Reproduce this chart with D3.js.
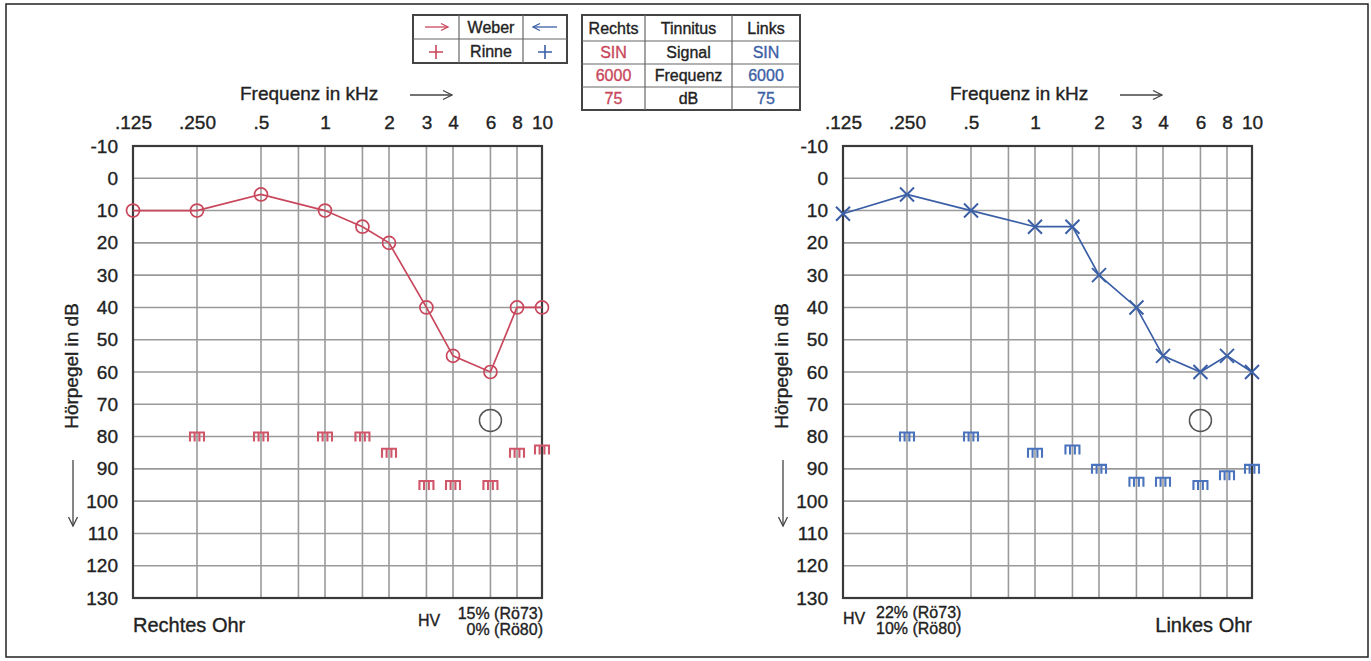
<!DOCTYPE html>
<html>
<head>
<meta charset="utf-8">
<script src="https://cdn.jsdelivr.net/npm/d3@7"></script>
<style>
  body { margin: 0; background: #fff; }
  svg { display: block; font-family: "Liberation Sans", Arial, sans-serif; }
  text { stroke-width: 0.35px; }
</style>
</head>
<body>
<div id="my_dataviz"></div>
<script>
// axis ticks
var freqTicks = [0.125, 0.25, 0.5, 1, 2, 3, 4, 6, 8, 10];
var freqTickLabels = [".125", ".250", ".5", "1", "2", "3", "4", "6", "8", "10"];
var gridFreqs = [0.25, 0.5, 0.75, 1, 1.5, 2, 3, 4, 6, 8];
var dbTicks = [-10, 0, 10, 20, 30, 40, 50, 60, 70, 80, 90, 100, 110, 120, 130];

// right ear (red)
var rightAirFreq = [0.125, 0.25, 0.5, 1, 1.5, 2, 3, 4, 6, 8, 10];
var rightAirDb = [10, 10, 5, 10, 15, 20, 40, 55, 60, 40, 40];
var rightBoneFreq = [0.25, 0.5, 1, 1.5, 2, 3, 4, 6, 8, 10];
var rightBoneDb = [80, 80, 80, 80, 85, 95, 95, 95, 85, 84];

// left ear (blue)
var leftAirFreq = [0.125, 0.25, 0.5, 1, 1.5, 2, 3, 4, 6, 8, 10];
var leftAirDb = [11, 5, 10, 15, 15, 30, 40, 55, 60, 55, 60];
var leftBoneFreq = [0.25, 0.5, 1, 1.5, 2, 3, 4, 6, 8, 10];
var leftBoneDb = [80, 80, 85, 84, 90, 94, 94, 95, 92, 90];

// tinnitus
var tinnitusFreq = 6;
var tinnitusDb = 75;
var tinnitusLabels = ["Signal", "Frequenz", "dB"];
var tinnitusRechts = ["SIN", "6000", "75"];
var tinnitusLinks = ["SIN", "6000", "75"];

// HV text
var hvRechts = ["15% (Rö73)", "0% (Rö80)"];
var hvLinks = ["22% (Rö73)", "10% (Rö80)"];

var red = "#c9475c", blue = "#3b5fa6";
var redMark = "#d0566a", blueMark = "#4a73bd";

var width = 1371, height = 661;
var plotW = 409, plotH = 452;

var svg = d3.select("#my_dataviz")
    .append("svg")
    .attr("width", width)
    .attr("height", height);

// outer frame
svg.append("rect")
    .attr("x", 6).attr("y", 4)
    .attr("width", 1362).attr("height", 653)
    .attr("fill", "none")
    .attr("stroke", "#222")
    .attr("stroke-width", 1.5);

// log scale, 8->10 squeezed a bit like the printed form
var x = d3.scaleLog()
    .domain([0.125, 8, 10])
    .range([0, 384, plotW]);

var y = d3.scaleLinear()
    .domain([-10, 130])
    .range([0, plotH]);

function arrow(g, x1, y1, x2, y2, color, head) {
    var dir = x2 > x1 ? 1 : (x2 < x1 ? -1 : 0);
    g.append("line")
        .attr("x1", x1).attr("y1", y1).attr("x2", x2).attr("y2", y2)
        .attr("stroke", color).attr("stroke-width", 1.3);
    if (dir !== 0) {
        g.append("path")
            .attr("d", "M" + (x2 - dir * head) + "," + (y2 - head * 0.5) + "L" + x2 + "," + y2 + "L" + (x2 - dir * head) + "," + (y2 + head * 0.5))
            .attr("fill", "none").attr("stroke", color).attr("stroke-width", 1.3);
    } else {
        g.append("path")
            .attr("d", "M" + (x2 - head * 0.5) + "," + (y2 - head) + "L" + x2 + "," + y2 + "L" + (x2 + head * 0.5) + "," + (y2 - head))
            .attr("fill", "none").attr("stroke", color).attr("stroke-width", 1.3);
    }
}

function txt(sel, color) {
    return sel.attr("fill", color).attr("stroke", color);
}

function drawPanel(left, airFreq, airDb, boneFreq, boneDb, color, markColor, symbol) {
    var g = svg.append("g")
        .attr("transform", "translate(" + left + ",146)");

    // grid
    g.selectAll(".hgrid")
        .data(dbTicks)
        .enter().append("line")
        .attr("x1", 0).attr("x2", plotW)
        .attr("y1", function (d) { return y(d); })
        .attr("y2", function (d) { return y(d); })
        .attr("stroke", "#9a9a9a").attr("stroke-width", 1.6);
    g.selectAll(".vgrid")
        .data(gridFreqs)
        .enter().append("line")
        .attr("y1", 0).attr("y2", plotH)
        .attr("x1", function (d) { return x(d); })
        .attr("x2", function (d) { return x(d); })
        .attr("stroke", "#9a9a9a").attr("stroke-width", 1.6);
    g.append("rect")
        .attr("width", plotW).attr("height", plotH)
        .attr("fill", "none").attr("stroke", "#3a3a3a").attr("stroke-width", 2.2);

    // axes
    var xAxis = g.append("g")
        .call(d3.axisTop(x)
            .tickValues(freqTicks)
            .tickSize(0)
            .tickPadding(17)
            .tickFormat(function (d, i) { return freqTickLabels[i]; }));
    xAxis.select(".domain").remove();
    txt(xAxis.selectAll("text"), "#222")
        .attr("font-size", "19px")
        .attr("font-family", "'Liberation Sans', Arial, sans-serif");

    var yAxis = g.append("g")
        .call(d3.axisLeft(y)
            .tickValues(dbTicks)
            .tickSize(0)
            .tickPadding(15)
            .tickFormat(function (d) { return String(d); }));
    yAxis.select(".domain").remove();
    txt(yAxis.selectAll("text"), "#222")
        .attr("font-size", "19px")
        .attr("font-family", "'Liberation Sans', Arial, sans-serif");

    // axis titles
    txt(g.append("text"), "#222")
        .attr("x", x(0.125) + 107).attr("y", -46)
        .attr("font-size", "19px")
        .text("Frequenz in kHz");
    arrow(g, x(0.125) + 277, -51, x(0.125) + 319, -51, "#444", 9);

    txt(g.append("text"), "#222")
        .attr("transform", "translate(" + -55 + "," + 220 + ") rotate(-90)")
        .attr("text-anchor", "middle")
        .attr("font-size", "19px")
        .text("Hörpegel in dB");
    arrow(g, -60, 314, -60, 380, "#444", 9);

    // tinnitus marker
    g.append("circle")
        .attr("cx", x(tinnitusFreq)).attr("cy", y(tinnitusDb))
        .attr("r", 11)
        .attr("fill", "none").attr("stroke", "#555").attr("stroke-width", 1.5);

    // bone conduction (masked) marks
    var bone = boneFreq.map(function (f, i) { return [f, boneDb[i]]; });
    g.selectAll(".bone")
        .data(bone)
        .enter().append("path")
        .attr("transform", function (d) { return "translate(" + x(d[0]) + "," + y(d[1]) + ")"; })
        .attr("d", "M-8,-4H8M-7,-4V5M-2.4,-4V5M2.4,-4V5M7,-4V5")
        .attr("fill", "none").attr("stroke", markColor).attr("stroke-width", 2.1);

    // air conduction line
    var air = airFreq.map(function (f, i) { return [f, airDb[i]]; });
    g.append("path")
        .datum(air)
        .attr("d", d3.line()
            .x(function (d) { return x(d[0]); })
            .y(function (d) { return y(d[1]); }))
        .attr("fill", "none").attr("stroke", color).attr("stroke-width", 1.7);

    if (symbol === "o") {
        g.selectAll(".air")
            .data(air)
            .enter().append("circle")
            .attr("cx", function (d) { return x(d[0]); })
            .attr("cy", function (d) { return y(d[1]); })
            .attr("r", 6.5)
            .attr("fill", "none").attr("stroke", color).attr("stroke-width", 1.7);
    } else {
        g.selectAll(".air")
            .data(air)
            .enter().append("path")
            .attr("transform", function (d) { return "translate(" + x(d[0]) + "," + y(d[1]) + ")"; })
            .attr("d", "M-7,-7L7,7M-7,7L7,-7")
            .attr("fill", "none").attr("stroke", color).attr("stroke-width", 2);
    }
    return g;
}

var gR = drawPanel(133, rightAirFreq, rightAirDb, rightBoneFreq, rightBoneDb, red, redMark, "o");
var gL = drawPanel(843, leftAirFreq, leftAirDb, leftBoneFreq, leftBoneDb, blue, blueMark, "x");

// bottom labels
txt(gR.append("text"), "#222")
    .attr("x", 0).attr("y", plotH + 34)
    .attr("font-size", "20px")
    .text("Rechtes Ohr");
txt(gR.append("text"), "#222")
    .attr("x", 285).attr("y", plotH + 28)
    .attr("font-size", "16px")
    .text("HV");
txt(gR.selectAll(".hv")
    .data(hvRechts)
    .enter().append("text"), "#222")
    .attr("x", plotW + 1).attr("y", function (d, i) { return plotH + 21 + i * 16; })
    .attr("text-anchor", "end")
    .attr("font-size", "16px")
    .text(function (d) { return d; });

txt(gL.append("text"), "#222")
    .attr("x", plotW).attr("y", plotH + 34)
    .attr("text-anchor", "end")
    .attr("font-size", "20px")
    .text("Linkes Ohr");
txt(gL.append("text"), "#222")
    .attr("x", 0).attr("y", plotH + 26)
    .attr("font-size", "16px")
    .text("HV");
txt(gL.selectAll(".hv")
    .data(hvLinks)
    .enter().append("text"), "#222")
    .attr("x", 33).attr("y", function (d, i) { return plotH + 20 + i * 16; })
    .attr("font-size", "16px")
    .text(function (d) { return d; });

// Weber / Rinne legend
var leg = svg.append("g");
var legCols = [413, 459, 523, 567];
var legRows = [15, 39, 63];
leg.append("rect")
    .attr("x", legCols[0]).attr("y", legRows[0])
    .attr("width", legCols[3] - legCols[0]).attr("height", legRows[2] - legRows[0])
    .attr("fill", "none").attr("stroke", "#444").attr("stroke-width", 2);
leg.selectAll(".vl").data(legCols.slice(1, 3)).enter().append("line")
    .attr("x1", function (d) { return d; }).attr("x2", function (d) { return d; })
    .attr("y1", legRows[0]).attr("y2", legRows[2])
    .attr("stroke", "#666").attr("stroke-width", 1.2);
leg.append("line")
    .attr("x1", legCols[0]).attr("x2", legCols[3])
    .attr("y1", legRows[1]).attr("y2", legRows[1])
    .attr("stroke", "#666").attr("stroke-width", 1.2);
arrow(leg, 425, 27, 448, 27, red, 7);
arrow(leg, 557, 27, 533, 27, blue, 7);
txt(leg.append("text"), "#222").attr("x", 491).attr("y", 33).attr("text-anchor", "middle")
    .attr("font-size", "16px").text("Weber");
txt(leg.append("text"), "#222").attr("x", 491).attr("y", 57).attr("text-anchor", "middle")
    .attr("font-size", "16px").text("Rinne");
leg.append("path").attr("d", "M436,45V59M429,52H443")
    .attr("stroke", red).attr("stroke-width", 1.6);
leg.append("path").attr("d", "M545,45V59M538,52H552")
    .attr("stroke", blue).attr("stroke-width", 1.6);

// tinnitus table
var tab = svg.append("g");
var tabCols = [582, 645, 732, 800];
var tabRows = [15, 41, 64, 87, 110];
tab.append("rect")
    .attr("x", tabCols[0]).attr("y", tabRows[0])
    .attr("width", tabCols[3] - tabCols[0]).attr("height", tabRows[4] - tabRows[0])
    .attr("fill", "none").attr("stroke", "#444").attr("stroke-width", 2);
tab.selectAll(".vl").data(tabCols.slice(1, 3)).enter().append("line")
    .attr("x1", function (d) { return d; }).attr("x2", function (d) { return d; })
    .attr("y1", tabRows[0]).attr("y2", tabRows[4])
    .attr("stroke", "#666").attr("stroke-width", 1.2);
tab.selectAll(".hl").data(tabRows.slice(1, 4)).enter().append("line")
    .attr("y1", function (d) { return d; }).attr("y2", function (d) { return d; })
    .attr("x1", tabCols[0]).attr("x2", tabCols[3])
    .attr("stroke", "#666").attr("stroke-width", 1.2);

var headers = ["Rechts", "Tinnitus", "Links"];
txt(tab.selectAll(".hdr").data(headers).enter().append("text"), "#222")
    .attr("x", function (d, i) { return (tabCols[i] + tabCols[i + 1]) / 2; })
    .attr("y", 34)
    .attr("text-anchor", "middle")
    .attr("font-size", "16px")
    .text(function (d) { return d; });

var cols = [tinnitusRechts, tinnitusLabels, tinnitusLinks];
var colColors = [red, "#222", blue];
cols.forEach(function (vals, c) {
    txt(tab.selectAll(".c" + c).data(vals).enter().append("text"), colColors[c])
        .attr("x", (tabCols[c] + tabCols[c + 1]) / 2)
        .attr("y", function (d, i) { return tabRows[i + 1] + 17; })
        .attr("text-anchor", "middle")
        .attr("font-size", "16px")
        .text(function (d) { return d; });
});
</script>
</body>
</html>
